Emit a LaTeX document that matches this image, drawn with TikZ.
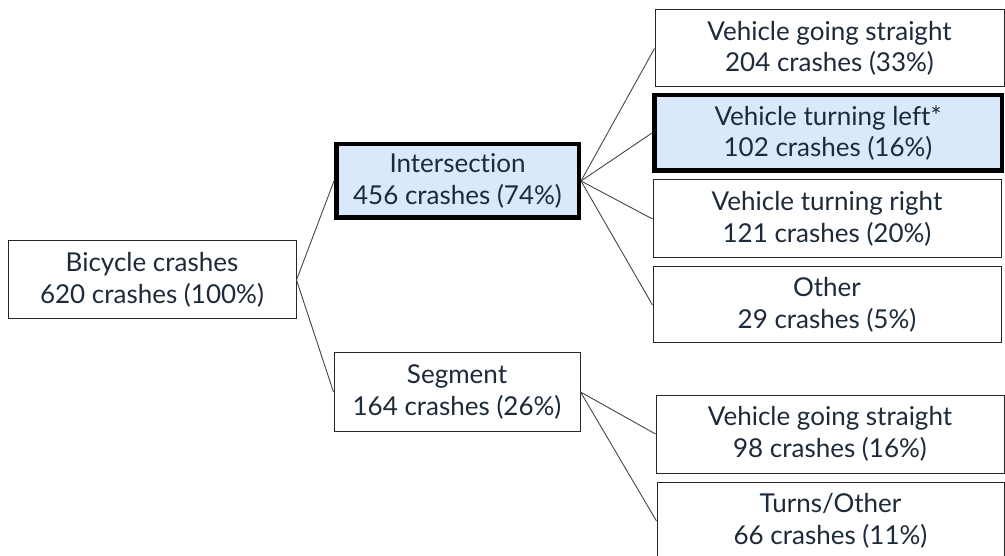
\documentclass[tikz,border=0pt]{standalone}
\usepackage{fontspec}
\setmainfont{Lato}[RawFeature={-liga;-dlig}]
\definecolor{txt}{RGB}{28,42,58}
\definecolor{hl}{RGB}{218,232,252}
\definecolor{ln}{RGB}{70,70,70}
\begin{document}
\begin{tikzpicture}[x=1pt,y=-1pt,
  box/.style={draw=black!85,line width=1pt,fill=white,rectangle,align=center,
    text=txt,font=\fontsize{26}{31.5}\selectfont,inner sep=0pt},
  hbox/.style={box,draw=black,line width=4.5pt,fill=hl},
  conn/.style={draw=ln,line width=0.9pt}]
\useasboundingbox (0,0) rectangle (1005,556);
\clip (0,0) rectangle (1005,556);
\node[box,minimum width=288,minimum height=78] (bike) at (152,280) {Bicycle crashes\\620 crashes (100\%)};
\node[hbox,minimum width=242.5,minimum height=73.5] (inter) at (457.5,181) {Intersection\\456 crashes (74\%)};
\node[box,minimum width=246,minimum height=78] (seg) at (457,392) {Segment\\164 crashes (26\%)};
\node[box,minimum width=349,minimum height=77] (ist) at (829.5,48.5) {Vehicle going straight\\204 crashes (33\%)};
\node[hbox,minimum width=347.5,minimum height=75.5] (ilt) at (828,133) {Vehicle turning left*\\102 crashes (16\%)};
\node[box,minimum width=348,minimum height=78] (irt) at (827,219) {Vehicle turning right\\121 crashes (20\%)};
\node[box,minimum width=348,minimum height=76] (iot) at (827,305) {Other\\29 crashes (5\%)};
\node[box,minimum width=348,minimum height=78] (sst) at (830,434) {Vehicle going straight\\98 crashes (16\%)};
\node[box,minimum width=347,minimum height=78] (sot) at (830.5,521) {Turns/Other\\66 crashes (11\%)};
\draw[conn] (bike.east) -- (inter.west);
\draw[conn] (bike.east) -- (seg.west);
\draw[conn] (inter.east) -- (ist.west);
\draw[conn] (inter.east) -- (ilt.west);
\draw[conn] (inter.east) -- (irt.west);
\draw[conn] (inter.east) -- (iot.west);
\draw[conn] (seg.east) -- (sst.west);
\draw[conn] (seg.east) -- (sot.west);
\end{tikzpicture}
\end{document}
